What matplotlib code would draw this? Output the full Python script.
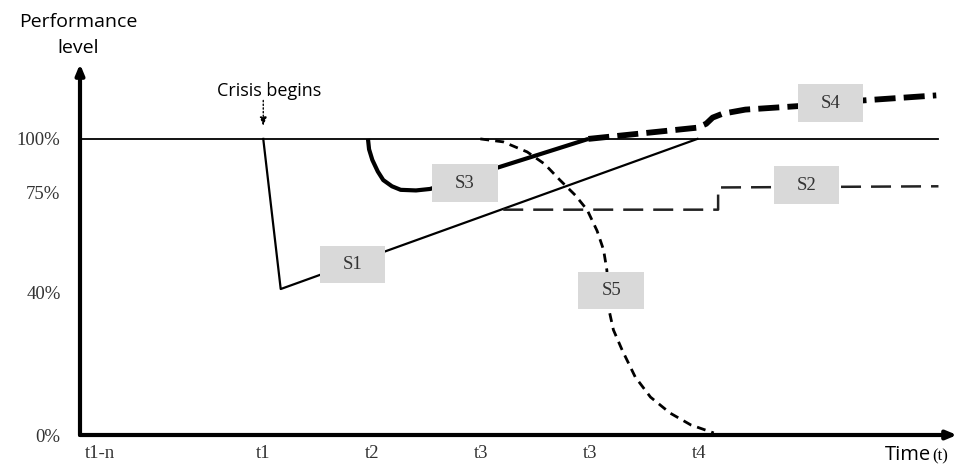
import matplotlib.pyplot as plt
from matplotlib.patches import Rectangle

# x in time units (t1 = 1, t2 = 2, ...), y in level units (0% = 0, 100% = 100)
xtick_pos = [-0.5, 1.0, 2.0, 3.0, 4.0, 5.0]
xtick_labels = ['t1-n', 't1', 't2', 't3', 't3', 't4']
ytick_pos = [0, 48, 82, 100]
ytick_labels = ['0%', '40%', '75%', '100%']

base_x = [-0.68, 7.19]
base_y = [100, 100]

s1_x = [1.0, 1.16, 4.98]
s1_y = [100, 49.3, 100]

s3_x = [1.96, 1.97, 2.0, 2.05, 2.10, 2.18, 2.26, 2.4, 2.53, 3.98]
s3_y = [100, 96.5, 92.9, 89.0, 86.1, 84.0, 82.8, 82.6, 83.1, 100]

s4_x = [3.98, 4.98, 5.06, 5.12, 5.21, 5.42, 6.2, 6.5, 7.17]
s4_y = [100, 103.8, 105.1, 107.2, 108.5, 109.9, 111.8, 113.0, 114.7]

s2_x = [3.2, 5.17, 5.17, 7.19]
s2_y = [76.1, 76.1, 83.6, 84.0]

s5_x = [2.99, 3.2, 3.42, 3.58, 3.72, 3.86, 3.97, 4.06, 4.12, 4.15, 4.17, 4.21, 4.29, 4.41, 4.55, 4.73, 4.92, 5.13]
s5_y = [100, 99.0, 95.6, 91.5, 86.1, 81.0, 76.0, 69.0, 62.5, 55.7, 42.2, 35.5, 28.7, 19.6, 12.8, 7.4, 3.4, 0.7]

# label boxes: name, centre x, centre y
box_names = ['S1', 'S3', 'S2', 'S4', 'S5']
box_cx = [1.82, 2.85, 5.98, 6.20, 4.19]
box_cy = [57.6, 85.0, 84.3, 112.1, 48.8]

fig = plt.figure(figsize=(9.63, 4.65), dpi=100)
ax = fig.add_axes([80 / 963, 30 / 465, 877 / 963, 371 / 465])
ax.set_xlim(-0.68, 7.36)
ax.set_ylim(0, 125.3)
for s in ax.spines.values():
    s.set_visible(False)

serif = 'Liberation Serif'
sans = 'Open Sans'

ax.set_xticks(xtick_pos)
ax.set_xticklabels(xtick_labels, family=serif, fontsize=13.5, color='#333333')
ax.set_yticks(ytick_pos)
ax.set_yticklabels(ytick_labels, family=serif, fontsize=13.5, color='#333333')
ax.tick_params(length=0)
ax.tick_params(axis='x', pad=7)
ax.tick_params(axis='y', pad=14)

# axes with arrow heads
ax.annotate('', xy=(-0.68, 125.3), xytext=(-0.68, 0), annotation_clip=False,
            arrowprops=dict(arrowstyle='-|>,head_length=0.6,head_width=0.25', lw=3, color='black', shrinkA=0, shrinkB=0))
ax.annotate('', xy=(7.36, 0), xytext=(-0.68, 0), annotation_clip=False,
            arrowprops=dict(arrowstyle='-|>,head_length=0.6,head_width=0.25', lw=3, color='black', shrinkA=0, shrinkB=0))

ax.plot(base_x, base_y, color='black', lw=1.3, clip_on=False)
ax.plot(s1_x, s1_y, color='black', lw=1.6, clip_on=False)
ax.plot(s3_x, s3_y, color='black', lw=3, solid_capstyle='butt', clip_on=False)
ax.plot(s4_x, s4_y, color='black', lw=4.2, dashes=(3.6, 1.4), clip_on=False)
ax.plot(s2_x, s2_y, color='#222222', lw=1.8, dashes=(8, 4), clip_on=False)
ax.plot(s5_x, s5_y, color='black', lw=2, dashes=(3.2, 2.2), clip_on=False)

bw, bh = 0.6, 12.8
for name, cx, cy in zip(box_names, box_cx, box_cy):
    ax.add_patch(Rectangle((cx - bw / 2, cy - bh / 2), bw, bh, facecolor='#d9d9d9',
                           edgecolor='none', zorder=5, clip_on=False))
    ax.text(cx, cy, name, ha='center', va='center', family=serif, fontsize=13.5,
            color='#333333', zorder=6)

# crisis marker
ax.text(1.05, 113.3, 'Crisis begins', ha='center', va='bottom', family=sans, fontsize=13)
ax.annotate('', xy=(1.0, 104.4), xytext=(1.0, 113), annotation_clip=False,
            arrowprops=dict(arrowstyle='-|>,head_length=0.5,head_width=0.2', lw=1, ls=':', color='black',
                            shrinkA=0, shrinkB=0))

fig.text(78 / 963, 1 - 35 / 465, 'Performance\nlevel', ha='center', va='center',
         family=sans, fontsize=14, linespacing=1.55)
fig.text(885 / 963, 1 - 455 / 465, 'Time', ha='left', va='center', family=sans, fontsize=14.5)
fig.text(932 / 963, 1 - 456 / 465, '(t)', ha='left', va='center', family=serif, fontsize=12)

fig.savefig('out.png', dpi=100)
